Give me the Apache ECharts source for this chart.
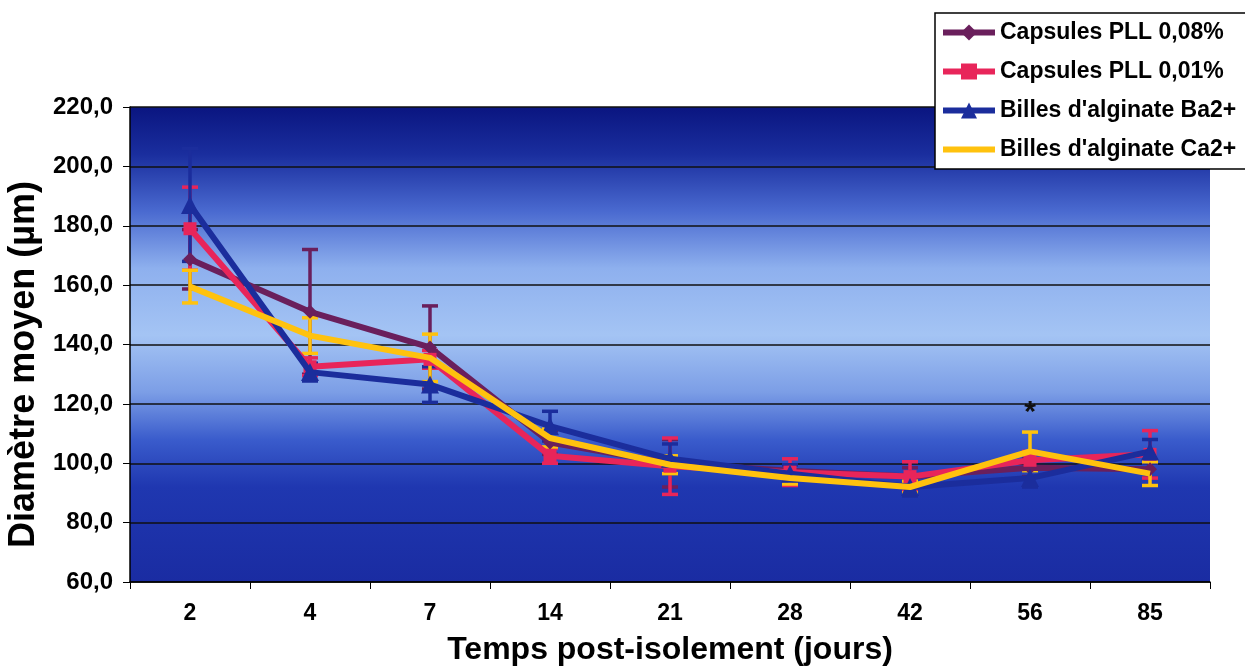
<!DOCTYPE html>
<html><head><meta charset="utf-8">
<script src="https://cdn.jsdelivr.net/npm/echarts@6/dist/echarts.min.js"></script>
<style>html,body{margin:0;padding:0;background:#fff}#c{width:1245px;height:667px}</style>
</head><body><div id="c"></div>
<script>
const categories = ['2','4','7','14','21','28','42','56','85'];
const seriesNames = ['Capsules PLL 0,08%','Capsules PLL 0,01%',"Billes d'alginate Ba2+","Billes d'alginate Ca2+"];
const pll008 = [168.7, 151.0, 139.0, 107.0, 100.0, 97.5, 95.5, 98.5, 98.0];
const pll001 = [179.0, 132.5, 135.0, 102.5, 99.0, 97.0, 95.5, 101.0, 103.0];
const ba2 = [187.0, 130.7, 126.5, 112.5, 101.5, 96.5, 92.0, 95.0, 104.0];
const ca2 = [159.5, 143.0, 135.5, 108.5, 99.5, 95.0, 92.0, 104.0, 96.5];
const err008 = [10, 21, 14, 4, 8, 2, 3, 3, 3];
const err001 = [14, 3, 3, 2.5, 9.5, 4.5, 5, 3, 8];
const errBa = [19, 3, 6, 5, 5, 3, 3, 3, 4];
const errCa = [5.5, 6, 8, 3, 3, 2, 2, 6.5, 4];
const yTicks = {min: 60, max: 220, interval: 20};
const starLabel = {category: '56', value: 117, text: '*'};

const colors = ['#6a1f5c', '#e8255a', '#1b2d9c', '#ffc20e'];
const symbols = ['diamond', 'rect', 'triangle', 'none'];
const values = [pll008, pll001, ba2, ca2];
const errs = [err008, err001, errBa, errCa];
const font = '"Liberation Sans", Arial, sans-serif';

const chart = echarts.init(document.getElementById('c'));
const series = [];
values.forEach((vals, s) => {
  series.push({
    type: 'custom', name: seriesNames[s] + '_err', z: 2, silent: true,
    renderItem: function (params, api) {
      const x = api.value(0);
      const lo = api.coord([x, api.value(1)]);
      const hi = api.coord([x, api.value(2)]);
      const w = 8;
      const st = {stroke: colors[s], lineWidth: 3.5};
      return {type: 'group', children: [
        {type: 'line', shape: {x1: lo[0], y1: lo[1], x2: hi[0], y2: hi[1]}, style: st},
        {type: 'line', shape: {x1: lo[0]-w, y1: lo[1], x2: lo[0]+w, y2: lo[1]}, style: st},
        {type: 'line', shape: {x1: hi[0]-w, y1: hi[1], x2: hi[0]+w, y2: hi[1]}, style: st}
      ]};
    },
    data: vals.map((v, i) => [i, v - errs[s][i], v + errs[s][i]])
  });
});
values.forEach((vals, s) => {
  const ser = {
    type: 'line', name: seriesNames[s], z: 3 + s,
    data: vals, symbol: symbols[s], symbolSize: s === 2 ? 18 : (s === 0 ? 14 : 13),
    lineStyle: {color: colors[s], width: 6},
    itemStyle: {color: colors[s]},
    emphasis: {disabled: true}
  };
  if (s === 3) {
    ser.markPoint = {symbol: 'circle', symbolSize: 1, itemStyle: {color: 'rgba(0,0,0,0)'},
      label: {show: true, formatter: starLabel.text, color: '#111', fontSize: 30, fontWeight: 'bold', fontFamily: font},
      data: [{coord: [starLabel.category, starLabel.value]}]};
  }
  series.push(ser);
});

chart.setOption({
  animation: false,
  backgroundColor: '#ffffff',
  grid: {left: 130, right: 35, top: 107, bottom: 85, show: true, borderWidth: 0,
    outerBoundsMode: 'none', containLabel: false,
    backgroundColor: {type: 'linear', x: 0, y: 0, x2: 0, y2: 1, colorStops: [
      {offset: 0, color: '#0a1580'}, {offset: 0.1, color: '#1a2e9e'},
      {offset: 0.22, color: '#4a6ad0'}, {offset: 0.34, color: '#8eb0ee'},
      {offset: 0.48, color: '#a4c4f4'}, {offset: 0.6, color: '#7c9ee6'},
      {offset: 0.7, color: '#3a5ccc'}, {offset: 0.8, color: '#1f37b0'}, {offset: 1, color: '#1a2ca2'}]}},
  legend: {
    data: seriesNames.map((n, i) => i === 3 ? {name: n, itemStyle: {opacity: 0}} : n),
    orient: 'vertical', left: 935, top: 13,
    backgroundColor: '#ffffff', borderColor: '#000', borderWidth: 1.5,
    padding: [8, 14, 8, 5], itemGap: 16, itemWidth: 52, itemHeight: 20,
    lineStyle: {width: 6},
    textStyle: {fontFamily: font, fontWeight: 'bold', fontSize: 23, color: '#000'}
  },
  xAxis: {
    type: 'category', data: categories, boundaryGap: true,
    name: 'Temps post-isolement (jours)', nameLocation: 'middle', nameGap: 52,
    nameTextStyle: {fontFamily: font, fontWeight: 'bold', fontSize: 32, color: '#000'},
    axisLine: {lineStyle: {color: '#000', width: 1.5}},
    axisTick: {show: true, length: 7, lineStyle: {color: '#000'}},
    axisLabel: {fontFamily: font, fontWeight: 'bold', fontSize: 23, color: '#000', margin: 20},
    splitLine: {show: false}
  },
  yAxis: {
    type: 'value', min: yTicks.min, max: yTicks.max, interval: yTicks.interval,
    name: 'Diamètre moyen (µm)', nameLocation: 'middle', nameGap: 86,
    nameTextStyle: {fontFamily: font, fontWeight: 'bold', fontSize: 36, color: '#000', padding: [0, 40, 0, 0]},
    axisLine: {show: true, lineStyle: {color: '#000', width: 1.5}},
    axisTick: {show: true, length: 7, lineStyle: {color: '#000'}},
    axisLabel: {fontFamily: font, fontWeight: 'bold', fontSize: 24, color: '#000', margin: 17,
      formatter: v => v.toFixed(1).replace('.', ',')},
    splitLine: {show: true, lineStyle: {color: '#111', width: 1.5}}
  },
  series: series
});
</script></body></html>
